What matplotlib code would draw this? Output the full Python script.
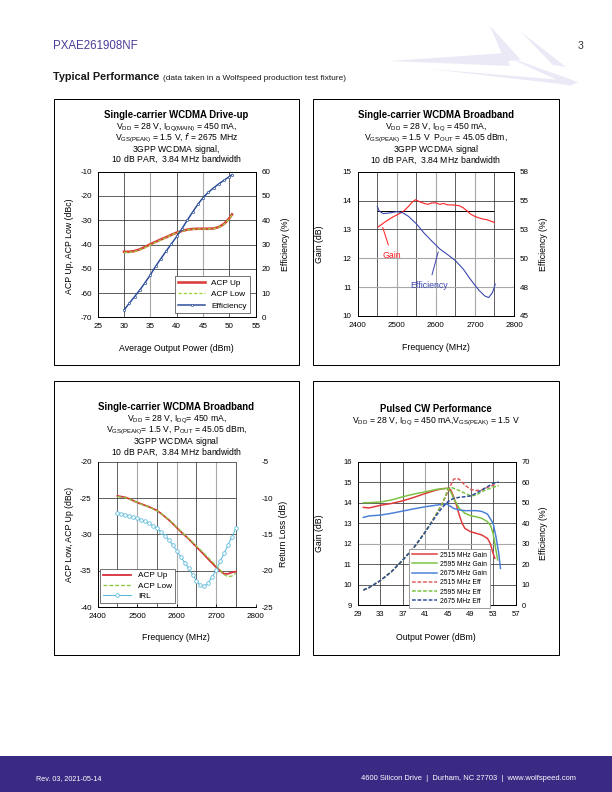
import matplotlib
matplotlib.use("Agg")
import matplotlib.pyplot as plt
from matplotlib.patches import Rectangle, Polygon

plt.rcParams["font.family"] = ["Liberation Sans", "DejaVu Sans"]
plt.rcParams["axes.unicode_minus"] = False

W, H = 612, 792

# --- Drive-up (top left) ---
drive_pout = [30, 31, 32, 33, 34, 35, 36, 37, 38, 39, 40, 41, 42, 43, 44, 45, 46, 47, 48, 49, 50, 50.5]
drive_acp_up = [-43.0, -43.0, -42.7, -42.0, -41.0, -39.9, -38.9, -37.9, -37.0, -36.0, -35.1, -34.4,
                -33.9, -33.6, -33.5, -33.5, -33.5, -33.4, -32.8, -31.5, -29.2, -27.6]
drive_acp_low = [-43.3, -43.3, -42.9, -42.2, -41.3, -40.2, -39.1, -38.1, -37.1, -36.1, -35.2, -34.5,
                 -34.0, -33.7, -33.6, -33.6, -33.6, -33.5, -32.9, -31.7, -29.4, -27.8]
drive_eff = [3.0, 5.8, 8.5, 11.3, 14.3, 17.5, 21.0, 24.2, 27.3, 30.3, 33.3, 36.5,
             40.0, 43.3, 46.5, 49.3, 51.5, 53.3, 55.0, 56.5, 58.0, 58.8]

# --- Broadband gain / efficiency (top right) ---
bb_freq_gain = [2452, 2470, 2490, 2500, 2510, 2520, 2530, 2540, 2548, 2560, 2570, 2580, 2590, 2600, 2610,
                2620, 2630, 2640, 2650, 2660, 2670, 2680, 2690, 2700, 2710, 2720, 2730, 2740, 2750]
bb_gain = [13.08, 13.26, 13.43, 13.5, 13.57, 13.66, 13.8, 13.95, 14.03, 13.95, 13.9, 13.87, 13.92, 13.92, 13.87,
           13.9, 13.85, 13.85, 13.84, 13.82, 13.75, 13.64, 13.52, 13.45, 13.4, 13.36, 13.34, 13.29, 13.24]
bb_freq_eff = [2450, 2455, 2465, 2480, 2500, 2515, 2530, 2550, 2570, 2590, 2610, 2630, 2650, 2670,
               2690, 2710, 2725, 2735, 2745, 2752]
bb_eff = [54.5, 54.1, 53.87, 53.92, 54.04, 53.95, 53.63, 52.99, 52.18, 51.48, 50.81, 50.32, 49.8, 49.07,
          48.11, 47.24, 46.74, 46.6, 47.03, 47.76]
bb_gain_ref = 13.63
bb_eff_ticks = [45, 47.5, 50, 52.5, 55, 57.5]
bb_eff_labels = ["45", "48", "50", "53", "55", "58"]

# --- Broadband ACP / IRL (bottom left) ---
acp_freq = [2450, 2460, 2470, 2480, 2490, 2500, 2510, 2520, 2530, 2540, 2550, 2560, 2570, 2580, 2590, 2600,
            2610, 2620, 2630, 2640, 2650, 2660, 2670, 2680, 2690, 2700, 2710, 2720, 2730, 2740, 2750]
acp_up = [-24.7, -24.8, -24.9, -25.1, -25.35, -25.6, -25.8, -26.0, -26.2, -26.45, -26.7, -27.1, -27.55, -28.0,
          -28.5, -29.05, -29.6, -30.1, -30.6, -31.15, -31.7, -32.25, -32.8, -33.4, -33.95, -34.5, -35.0,
          -35.4, -35.4, -35.2, -35.1]
acp_low = [-24.8, -24.85, -24.95, -25.15, -25.35, -25.6, -25.85, -26.05, -26.25, -26.5, -26.75, -27.1, -27.5,
           -27.95, -28.45, -29.0, -29.5, -30.05, -30.55, -31.05, -31.6, -32.1, -32.65, -33.2, -33.75, -34.3,
           -34.9, -35.5, -35.8, -35.7, -35.3]
irl = [-12.0, -12.15, -12.3, -12.45, -12.64, -12.8, -13.0, -13.2, -13.47, -13.8, -14.15, -14.6, -15.16, -15.75,
       -16.44, -17.2, -18.04, -18.85, -19.65, -20.5, -21.34, -22.0, -22.1, -21.6, -20.8, -19.9, -18.7, -17.6,
       -16.44, -15.3, -14.15]

# --- Pulsed CW (bottom right) ---
cw_pout_2515g = [30, 31, 33, 35, 37, 39, 41, 43, 44, 45, 45.5, 46, 46.5, 47, 47.5, 48, 49, 50, 51, 52, 52.5, 53, 53.3]
cw_gain_2515 = [13.77, 13.74, 13.87, 13.96, 14.09, 14.26, 14.45, 14.62, 14.68, 14.7, 14.62, 14.29, 13.88, 13.39,
                12.99, 12.74, 12.58, 12.5, 12.42, 12.25, 12.0, 11.52, 11.28]
cw_pout_2595g = [30, 31, 33, 35, 37, 39, 41, 43, 44, 44.8, 45.5, 46, 47, 48, 49, 50, 51, 52, 52.5, 53, 53.5, 53.8]
cw_gain_2595 = [14.0, 14.0, 14.03, 14.13, 14.29, 14.42, 14.53, 14.65, 14.68, 14.7, 14.53, 14.21, 13.72, 13.48,
                13.36, 13.31, 13.23, 13.07, 12.9, 12.5, 11.68, 11.2]
cw_pout_2675g = [30, 31, 33, 35, 37, 39, 41, 43, 44, 44.8, 46, 47, 48, 49, 50, 51, 52, 53, 53.5, 54, 54.3]
cw_gain_2675 = [13.28, 13.35, 13.39, 13.48, 13.59, 13.7, 13.8, 13.88, 13.92, 13.93, 13.72, 13.64, 13.61, 13.61,
                13.61, 13.57, 13.44, 12.99, 12.34, 11.52, 10.79]
cw_pout_2515e = [30, 31, 33, 35, 37, 39, 41, 43, 44, 45, 45.5, 46, 46.5, 47, 48, 49, 50, 51, 52, 53, 53.5]
cw_eff_2515 = [7.3, 8.5, 11.9, 16.3, 22.0, 28.2, 35.8, 44.8, 49.7, 55.4, 58.6, 61.4, 61.9, 61.4, 58.6, 56.5,
               55.9, 56.2, 57.5, 58.5, 59.0]
cw_pout_2595e = [30, 31, 33, 35, 37, 39, 41, 43, 44, 45, 45.5, 46, 47, 48, 49, 50, 51, 52, 53, 54]
cw_eff_2595 = [7.3, 8.5, 11.9, 16.3, 22.0, 28.2, 35.8, 44.6, 49.5, 56.5, 57.5, 57.0, 55.9, 54.6, 53.3, 53.7,
               55.4, 56.5, 57.5, 58.3]
cw_pout_2675e = [30, 31, 33, 35, 37, 39, 41, 43, 44, 45, 46, 47, 48, 49, 50, 51, 52, 53, 54]
cw_eff_2675 = [7.3, 8.5, 11.9, 16.3, 22.0, 28.2, 35.8, 44.0, 47.7, 50.5, 52.1, 52.6, 52.9, 53.3, 54.6, 56.2,
               57.8, 59.4, 60.1]

DARK = "#3c3c3c"
GRAY = "#a8a8a8"
TITLE_FS = 9.6
SUB_FS = 8.6
LABEL_FS = 8.8
TICK_FS = 8.0


def add_axes(fig, left, top, right, bottom):
    return fig.add_axes([left / W, 1 - bottom / H, (right - left) / W, (bottom - top) / H])


def ftext(fig, x, y, s, **kw):
    kw.setdefault("ha", "center")
    kw.setdefault("va", "center")
    return fig.text(x / W, 1 - y / H, s, **kw)


def style(ax, fs=TICK_FS):
    ax.tick_params(length=0, labelsize=fs, pad=6)
    for sp in ax.spines.values():
        sp.set_color("black")
        sp.set_linewidth(0.9)


def grid(ax, xs, ys, xcolors, ycolors, x0=None, x1=None):
    for x, c in zip(xs, xcolors):
        ax.axvline(x, color=c, lw=1.1 if c == GRAY else 0.8, zorder=0.5)
    for y, c in zip(ys, ycolors):
        if x0 is None:
            ax.axhline(y, color=c, lw=1.1 if c == GRAY else 0.8, zorder=0.5)
        else:
            ax.hlines(y, x0, x1, color=c, lw=1.1 if c == GRAY else 0.8, zorder=0.5)


def plain(s):
    # plain line set through mathtext too, so every line of a block gets the same height
    return r"$\mathregular{" + s.replace(" ", r"\ ") + "}$"


def titles(fig, cx, y_title, y_block, lines, spacing=0.76):
    ftext(fig, cx, y_title, lines[0], fontsize=TITLE_FS, weight="bold")
    body = [s if "$" in s else plain(s) for s in lines[1:]]
    ftext(fig, cx, y_block, "\n".join(body), fontsize=SUB_FS, linespacing=spacing,
          multialignment="center")


fig = plt.figure(figsize=(W / 72, H / 72), dpi=72)

# page header
ftext(fig, 53, 46, "PXAE261908NF", ha="left", fontsize=11.5, color="#4b3d98")
ftext(fig, 583, 46, "3", ha="right", fontsize=10.5, color="#333333")
logo_color = "#ece9f6"
for pts in [
    [(390, 61), (506, 53), (510, 66)],
    [(490, 26), (521, 60), (505, 61)],
    [(505, 56), (578, 82), (570, 86)],
    [(520, 31), (566, 67), (553, 65)],
    [(430, 69), (574, 81), (569, 85)],
]:
    fig.patches.append(Polygon([(x / W, 1 - y / H) for x, y in pts], closed=True,
                               facecolor=logo_color, edgecolor="none", transform=fig.transFigure))
ftext(fig, 53, 77, "Typical Performance", ha="left", fontsize=10.9, weight="bold", color="#1a1a1a")
ftext(fig, 163, 78, "(data taken in a Wolfspeed production test fixture)", ha="left", fontsize=8.2,
      color="#1a1a1a")

# panel frames
for l, t, r, b in [(54, 99, 299, 365), (313, 99, 559, 365), (54, 381, 299, 655), (313, 381, 559, 655)]:
    fig.patches.append(Rectangle((l / W, 1 - b / H), (r - l) / W, (b - t) / H, transform=fig.transFigure,
                                 fill=False, edgecolor="black", lw=1))

# footer
fig.patches.append(Rectangle((0, 0), 1, 36 / H, transform=fig.transFigure, facecolor="#3b2a84",
                             edgecolor="none"))
ftext(fig, 36, 779, "Rev. 03, 2021-05-14", ha="left", fontsize=7.2, color="white")
ftext(fig, 576, 779, "4600 Silicon Drive  |  Durham, NC 27703  |  www.wolfspeed.com", ha="right",
      fontsize=7.5, color="white")

# ---------------- chart 1: drive-up ----------------
ax1 = add_axes(fig, 97.7, 171.7, 255.7, 317.3)
ax1.set_xlim(25, 55)
ax1.set_ylim(-70, -10)
ax1.set_xticks(range(25, 56, 5))
ax1.set_yticks(range(-70, -9, 10))
style(ax1)
grid(ax1, [30, 35, 40, 45, 50], [-60, -50, -40, -30, -20],
     [DARK, GRAY, DARK, GRAY, DARK], [DARK] * 5)
l1, = ax1.plot(drive_pout, drive_acp_up, color="#d9403c", lw=2.6, label="ACP Up")
l2, = ax1.plot(drive_pout, drive_acp_low, color="#9ed23c", lw=1.3, ls=(0, (2.5, 1.5)), label="ACP Low")
ax1b = ax1.twinx()
ax1b.set_ylim(0, 60)
ax1b.set_yticks(range(0, 61, 10))
style(ax1b)
l3, = ax1b.plot(drive_pout, drive_eff, color="#2b4c9b", lw=1.5, marker="o", ms=2.2, mfc="white",
                mew=0.7, label="Efficiency")
leg = ax1b.legend(handles=[l1, l2, l3], loc="lower right", bbox_to_anchor=(0.964, 0.03), fontsize=8.2,
                  handlelength=3.2, fancybox=False, edgecolor="#555555", framealpha=1, borderaxespad=0,
                  labelspacing=0.45)
leg.get_frame().set_linewidth(0.8)
titles(fig, (54 + 299) / 2, 115.5, 143, [
    "Single-carrier WCDMA Drive-up",
    r"V$_\mathregular{DD}$ = 28 V, I$_\mathregular{DQ(MAIN)}$ = 450 mA,",
    r"V$_\mathregular{GS(PEAK)}$ = 1.5 V, $\it{f}$ = 2675 MHz",
    "3GPP WCDMA signal,",
    "10 dB PAR, 3.84 MHz bandwidth",
])
ftext(fig, 70, 246, "ACP Up, ACP Low (dBc)", rotation=90, fontsize=LABEL_FS)
ftext(fig, 285, 244, "Efficiency (%)", rotation=90, fontsize=LABEL_FS)
ftext(fig, 176, 348, "Average Output Power (dBm)", fontsize=LABEL_FS)

# ---------------- chart 2: broadband gain ----------------
ax2 = add_axes(fig, 357.7, 171.7, 514, 316)
ax2.set_xlim(2400, 2800)
ax2.set_ylim(10, 15)
ax2.set_xticks(range(2400, 2801, 100))
ax2.set_yticks(range(10, 16))
style(ax2)
grid(ax2, [2450, 2500, 2550, 2600, 2650, 2700, 2750], [11, 12, 13, 14],
     [DARK, GRAY, DARK, GRAY, DARK, GRAY, DARK], [GRAY, GRAY, DARK, DARK])
ax2.hlines(bb_gain_ref, bb_freq_eff[0], bb_freq_gain[-1], color="black", lw=1, zorder=1)
ax2.plot(bb_freq_gain, bb_gain, color="#ff2020", lw=1.1, zorder=3)
ax2b = ax2.twinx()
ax2b.set_ylim(45, 57.5)
ax2b.set_yticks(bb_eff_ticks)
ax2b.set_yticklabels(bb_eff_labels)
style(ax2b)
ax2b.plot(bb_freq_eff, bb_eff, color="#3c47b0", lw=1.1)
ax2.annotate("Gain", xy=(2464, 13.07), xytext=(2487, 12.1), color="#ff2020", fontsize=LABEL_FS,
             ha="center", va="center", arrowprops=dict(arrowstyle="-", color="#ff2020", lw=1,
                                                       shrinkA=4, shrinkB=0))
ax2.annotate("Efficiency", xy=(2606, 12.22), xytext=(2583, 11.07), color="#3c47b0", fontsize=LABEL_FS,
             ha="center", va="center", arrowprops=dict(arrowstyle="-", color="#3c47b0", lw=1,
                                                       shrinkA=4, shrinkB=0))
titles(fig, (313 + 559) / 2, 115.5, 143.5, [
    "Single-carrier WCDMA Broadband",
    r"V$_\mathregular{DD}$ = 28 V, I$_\mathregular{DQ}$ = 450 mA,",
    r"V$_\mathregular{GS(PEAK)}$ = 1.5 V  P$_\mathregular{OUT}$ = 45.05 dBm,",
    "3GPP WCDMA signal",
    "10 dB PAR, 3.84 MHz bandwidth",
])
ftext(fig, 320, 244, "Gain (dB)", rotation=90, fontsize=LABEL_FS)
ftext(fig, 544, 244, "Efficiency (%)", rotation=90, fontsize=LABEL_FS)
ftext(fig, 436, 347, "Frequency (MHz)", fontsize=LABEL_FS)

# ---------------- chart 3: broadband ACP / IRL ----------------
ax3 = add_axes(fig, 97.7, 461.7, 255.7, 607.3)
ax3.set_xlim(2400, 2800)
ax3.set_ylim(-40, -20)
ax3.set_xticks(range(2400, 2801, 100))
ax3.set_yticks(range(-40, -19, 5))
style(ax3)
ax3.spines["top"].set_visible(False)
ax3.spines["right"].set_visible(False)
grid(ax3, [2450, 2500, 2550, 2600, 2650, 2700, 2750], [-35, -30, -25, -20],
     [DARK, GRAY, DARK, GRAY, DARK, GRAY, DARK], [DARK] * 4, x0=2400, x1=2750)
ax3.tick_params(axis="x", length=3, direction="in", width=0.8)
k1, = ax3.plot(acp_freq, acp_up, color="#d8303c", lw=1.8, label="ACP Up", zorder=3)
k2, = ax3.plot(acp_freq, acp_low, color="#8cc63f", lw=1.3, ls=(0, (3, 1.5)), label="ACP Low", zorder=3)
ax3b = ax3.twinx()
ax3b.set_ylim(-25, -5)
ax3b.set_yticks(range(-25, -4, 5))
style(ax3b)
for sp in ax3b.spines.values():
    sp.set_visible(False)
ax3b.spines["left"].set_visible(True)
ax3b.spines["bottom"].set_visible(True)
k3, = ax3b.plot(acp_freq, irl, color="#5ab8dc", lw=1.0, marker="o", ms=3.6, mfc="white", mew=0.8,
                label="IRL")
leg = ax3b.legend(handles=[k1, k2, k3], loc="lower left", bbox_to_anchor=(0.015, 0.03), fontsize=8.3,
                  handlelength=3.4, fancybox=False, edgecolor="#555555", framealpha=1, borderaxespad=0,
                  labelspacing=0.3, borderpad=0.35)
leg.get_frame().set_linewidth(0.8)
titles(fig, (54 + 299) / 2, 406.5, 435, [
    "Single-carrier WCDMA Broadband",
    r"V$_\mathregular{DD}$ = 28 V, I$_\mathregular{DQ}$= 450 mA,",
    r"V$_\mathregular{GS(PEAK)}$= 1.5 V, P$_\mathregular{OUT}$ = 45.05 dBm,",
    "3GPP WCDMA signal",
    "10 dB PAR, 3.84 MHz bandwidth",
], spacing=0.79)
ftext(fig, 70, 534, "ACP Low, ACP Up (dBc)", rotation=90, fontsize=LABEL_FS)
ftext(fig, 284, 534, "Return Loss (dB)", rotation=90, fontsize=LABEL_FS)
ftext(fig, 176, 638, "Frequency (MHz)", fontsize=LABEL_FS)

# ---------------- chart 4: pulsed CW ----------------
ax4 = add_axes(fig, 357.7, 461.7, 515.7, 605)
ax4.set_xlim(29, 57)
ax4.set_ylim(9, 16)
ax4.set_xticks(range(29, 58, 4))
ax4.set_yticks(range(9, 17))
style(ax4, fs=7.6)
grid(ax4, [33, 37, 41, 45, 49, 53], [10, 11, 12, 13, 14, 15],
     [DARK, DARK, GRAY, DARK, DARK, DARK], [DARK, DARK, GRAY, DARK, DARK, DARK])
g1, = ax4.plot(cw_pout_2515g, cw_gain_2515, color="#e03a3a", lw=1.5, label="2515 MHz Gain")
g2, = ax4.plot(cw_pout_2595g, cw_gain_2595, color="#7cc242", lw=1.5, label="2595 MHz Gain")
g3, = ax4.plot(cw_pout_2675g, cw_gain_2675, color="#4a80d8", lw=1.5, label="2675 MHz Gain")
ax4b = ax4.twinx()
ax4b.set_ylim(0, 70)
ax4b.set_yticks(range(0, 71, 10))
style(ax4b, fs=7.6)
e1, = ax4b.plot(cw_pout_2515e, cw_eff_2515, color="#e05a5a", lw=1.5, ls=(0, (2.5, 1.2)), label="2515 MHz Eff")
e2, = ax4b.plot(cw_pout_2595e, cw_eff_2595, color="#7cc242", lw=1.5, ls=(0, (2.5, 1.2)), label="2595 MHz Eff")
e3, = ax4b.plot(cw_pout_2675e, cw_eff_2675, color="#2c4c9c", lw=1.5, ls=(0, (2.5, 1.2)), label="2675 MHz Eff")
leg = ax4b.legend(handles=[g1, g2, g3, e1, e2, e3], loc="lower left", bbox_to_anchor=(0.325, -0.02),
                  fontsize=6.8, handlelength=3.6, fancybox=False, edgecolor="#888888", framealpha=1,
                  borderaxespad=0, labelspacing=0.33, borderpad=0.45, handletextpad=0.5)
leg.get_frame().set_linewidth(0.8)
ftext(fig, (313 + 559) / 2, 409, "Pulsed CW Performance", fontsize=TITLE_FS, weight="bold")
ftext(fig, (313 + 559) / 2, 421.5,
      r"V$_\mathregular{DD}$ = 28 V, I$_\mathregular{DQ}$ = 450 mA,V$_\mathregular{GS(PEAK)}$ = 1.5 V",
      fontsize=SUB_FS)
ftext(fig, 320, 533, "Gain (dB)", rotation=90, fontsize=LABEL_FS)
ftext(fig, 543, 533, "Efficiency (%)", rotation=90, fontsize=LABEL_FS)
ftext(fig, 436, 637, "Output Power (dBm)", fontsize=LABEL_FS)

fig.savefig("out.png", dpi=72)
